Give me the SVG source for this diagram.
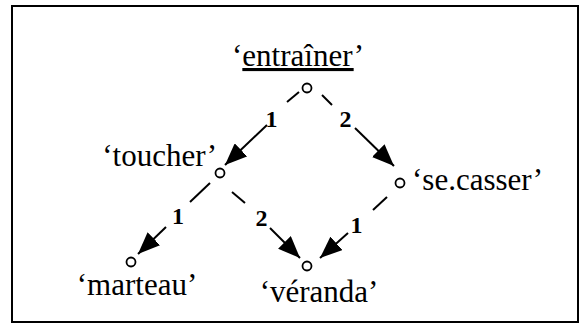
<svg xmlns="http://www.w3.org/2000/svg" width="579" height="325" viewBox="0 0 579 325">
<style>
.lbl{font-family:"Liberation Serif","Times New Roman",serif;font-size:31px;fill:#000}
.num{font-family:"Liberation Serif","Times New Roman",serif;font-size:24px;font-weight:bold;fill:#000;text-anchor:middle}
.nd{fill:#fff;stroke:#000;stroke-width:1.8}
.ln{stroke:#000;stroke-width:2;fill:none}
</style>
<defs>
<marker id="ah" viewBox="0 0 22 18" refX="22" refY="9" markerWidth="22" markerHeight="18" markerUnits="userSpaceOnUse" orient="auto">
<path d="M0,0 L22,9 L0,18 z" fill="#000"/>
</marker>
</defs>
<rect x="12" y="6" width="566" height="316" fill="#fff" stroke="#000" stroke-width="2"/>
<g id="connectors">
<line class="ln" x1="299" y1="92" x2="287" y2="102"/>
<line class="ln" x1="267" y1="125" x2="225" y2="165" marker-end="url(#ah)"/>
<line class="ln" x1="322" y1="95" x2="332" y2="105"/>
<line class="ln" x1="355" y1="128" x2="394" y2="166" marker-end="url(#ah)"/>
<line class="ln" x1="210" y1="183" x2="190" y2="202"/>
<line class="ln" x1="166" y1="227" x2="138" y2="254" marker-end="url(#ah)"/>
<line class="ln" x1="232" y1="192" x2="245" y2="203"/>
<line class="ln" x1="270" y1="228" x2="300" y2="258" marker-end="url(#ah)"/>
<line class="ln" x1="387" y1="197" x2="373" y2="210"/>
<line class="ln" x1="348" y1="233" x2="320" y2="258" marker-end="url(#ah)"/>
<text class="num" x="271.5" y="127">1</text>
<text class="num" x="345.5" y="127">2</text>
<text class="num" x="178" y="224">1</text>
<text class="num" x="261.5" y="226">2</text>
<text class="num" x="356.5" y="233">1</text>
</g>
<g id="entrainer">
<circle class="nd" cx="307" cy="88" r="4.5"/>
<text class="lbl" x="298" y="66" text-anchor="middle">‘<tspan text-decoration="underline">entraîner</tspan>’</text>
</g>
<g id="toucher">
<circle class="nd" cx="220" cy="173" r="4.5"/>
<text class="lbl" x="217" y="166" text-anchor="end">‘toucher’</text>
</g>
<g id="se-casser">
<circle class="nd" cx="400" cy="183" r="4.5"/>
<text class="lbl" x="412" y="190">‘se.casser’</text>
</g>
<g id="marteau">
<circle class="nd" cx="131" cy="262" r="4.5"/>
<text class="lbl" x="137" y="295" text-anchor="middle">‘marteau’</text>
</g>
<g id="veranda">
<circle class="nd" cx="307" cy="266" r="4.5"/>
<text class="lbl" x="319" y="302" text-anchor="middle">‘véranda’</text>
</g>
</svg>
